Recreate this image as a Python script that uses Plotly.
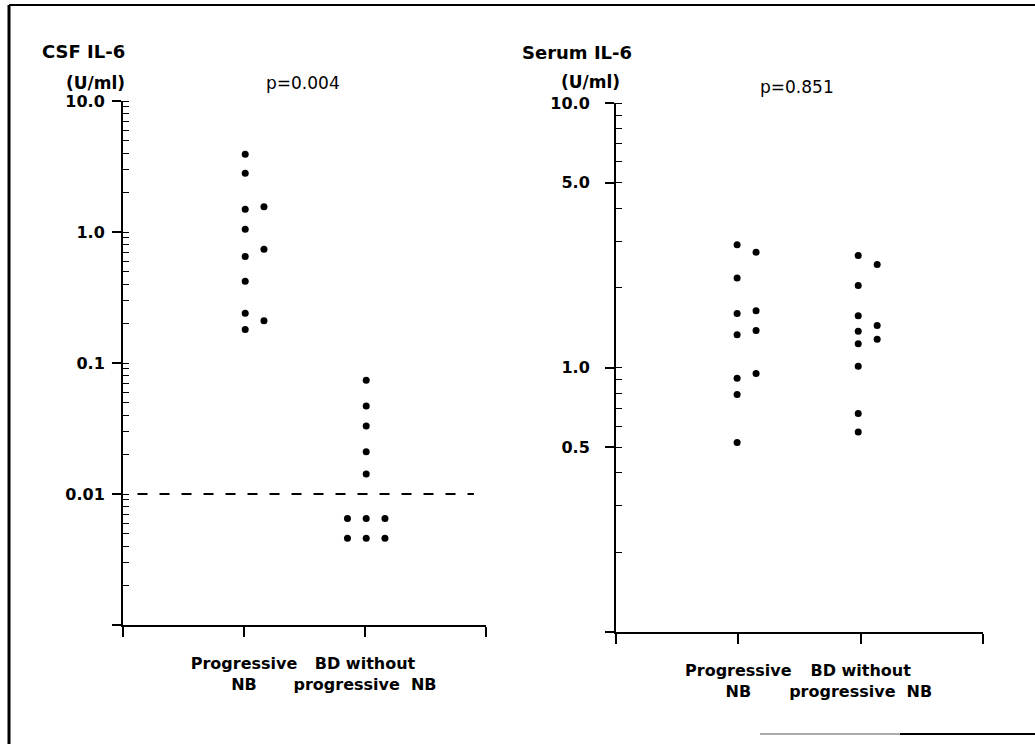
import plotly.graph_objects as go

# ---------------- data ----------------
categories = ["Progressive<br>NB", "BD without<br>progressive  NB"]

# CSF IL-6 (U/ml)
csf_prog_values = [3.93, 2.81, 1.49, 1.05, 0.65, 0.42, 0.24, 0.18, 1.56, 0.74, 0.21]
csf_prog_column = [0, 0, 0, 0, 0, 0, 0, 0, 1, 1, 1]
csf_bd_values = [0.074, 0.047, 0.033, 0.021, 0.0142,
                 0.0065, 0.0065, 0.0065, 0.0046, 0.0046, 0.0046]
csf_bd_column = [0, 0, 0, 0, 0, -1, 0, 1, -1, 0, 1]
csf_detection_limit = 0.01
csf_p_value = "p=0.004"

# Serum IL-6 (U/ml)
serum_prog_values = [2.91, 2.18, 1.60, 1.33, 0.91, 0.79, 0.52, 2.73, 1.64, 1.38, 0.95]
serum_prog_column = [0, 0, 0, 0, 0, 0, 0, 1, 1, 1, 1]
serum_bd_values = [2.65, 2.04, 1.57, 1.37, 1.23, 1.01, 0.67, 0.57, 2.45, 1.44, 1.28]
serum_bd_column = [0, 0, 0, 0, 0, 0, 0, 0, 1, 1, 1]
serum_p_value = "p=0.851"

csf_tickvals = [0.001, 0.01, 0.1, 1, 10]
csf_ticktext = ["", "0.01", "0.1", "1.0", "10.0"]
serum_tickvals = [0.1, 0.5, 1, 5, 10]
serum_ticktext = ["", "0.5", "1.0", "5.0", "10.0"]

# ---------------- figure ----------------
W, H = 1035, 744
FONT = "DejaVu Sans"
COL_STEP = 0.155


def px_x(p):
    return p / W


def px_y(p):
    return (H - p) / H


def xs(base, cols, shift=0.0):
    return [base + shift + c * COL_STEP for c in cols]


fig = go.Figure()
mk = dict(color="black", size=7)

fig.add_trace(go.Scatter(x=xs(1, csf_prog_column, 0.01), y=csf_prog_values, mode="markers",
                         marker=mk, xaxis="x", yaxis="y", showlegend=False))
fig.add_trace(go.Scatter(x=xs(2, csf_bd_column, 0.01), y=csf_bd_values, mode="markers",
                         marker=mk, xaxis="x", yaxis="y", showlegend=False))
fig.add_trace(go.Scatter(x=[0.12, 2.9], y=[csf_detection_limit, csf_detection_limit], mode="lines",
                         line=dict(color="black", width=2, dash="10px,12px"),
                         xaxis="x", yaxis="y", showlegend=False))
fig.add_trace(go.Scatter(x=xs(1, serum_prog_column, -0.01), y=serum_prog_values, mode="markers",
                         marker=mk, xaxis="x2", yaxis="y2", showlegend=False))
fig.add_trace(go.Scatter(x=xs(2, serum_bd_column, -0.02), y=serum_bd_values, mode="markers",
                         marker=mk, xaxis="x2", yaxis="y2", showlegend=False))

tickfont = dict(family=FONT, size=16, color="black", weight="bold")
catfont = dict(family=FONT, size=16, color="black", weight="bold")

xcommon = dict(range=[0, 3], tickvals=[0, 1, 2, 3], ticktext=[""] + categories + [""],
               showline=True, linecolor="black", linewidth=2, ticks="outside", ticklen=10,
               tickwidth=1.5, tickcolor="black", showgrid=False, zeroline=False,
               tickfont=catfont, ticklabelstandoff=13, tickangle=0, automargin=False,
               fixedrange=True)
ycommon = dict(type="log", showline=True, linecolor="black", linewidth=2, ticks="outside",
               ticklen=9, tickwidth=1.5, tickcolor="black", showgrid=False, zeroline=False,
               tickfont=tickfont, tickmode="array", automargin=False,
               minor=dict(dtick="D1", ticks="inside", ticklen=6, tickwidth=1.2,
                          tickcolor="black", showgrid=False),
               fixedrange=True)

fig.update_layout(
    template="none",
    width=W, height=H,
    margin=dict(l=0, r=0, t=0, b=0, pad=0),
    paper_bgcolor="white", plot_bgcolor="white",
    xaxis=dict(domain=[px_x(123), px_x(486)], anchor="y", **xcommon),
    yaxis=dict(domain=[px_y(625), px_y(101)], anchor="x", range=[-3, 1],
               tickvals=csf_tickvals, ticktext=csf_ticktext, ticklabelstandoff=4, **ycommon),
    xaxis2=dict(domain=[px_x(616), px_x(983)], anchor="y2", **xcommon),
    yaxis2=dict(domain=[px_y(632), px_y(103)], anchor="x2", range=[-1, 1],
                tickvals=serum_tickvals, ticktext=serum_ticktext, ticklabelstandoff=12, **ycommon),
)

ann = []


def add_text(text, x, y, xanchor="center", size=16, weight="bold"):
    ann.append(dict(text=text, x=px_x(x), y=px_y(y), xref="paper", yref="paper",
                    xanchor=xanchor, yanchor="middle", showarrow=False,
                    font=dict(family=FONT, size=size, color="black", weight=weight)))


add_text("CSF IL-6", 40, 51, xanchor="left", size=18)
add_text("(U/ml)", 95, 83, size=17)
add_text(csf_p_value, 303, 83, size=17, weight="normal")
add_text("Serum IL-6", 520, 52, xanchor="left", size=18)
add_text("(U/ml)", 590, 82, size=17)
add_text(serum_p_value, 797, 87, size=17, weight="normal")
fig.update_layout(annotations=ann)

# page border (scanned frame)
border = [
    dict(x0=9, y0=5, x1=9, y1=744, w=3, c="black"),
    dict(x0=9, y0=5, x1=1035, y1=5, w=2, c="black"),
    dict(x0=760, y0=734, x1=900, y1=734, w=2, c="#aaaaaa"),
    dict(x0=900, y0=734, x1=1035, y1=734, w=2, c="black"),
]
fig.update_layout(shapes=[dict(type="line", xref="paper", yref="paper",
                               x0=px_x(b["x0"]), y0=px_y(b["y0"]), x1=px_x(b["x1"]), y1=px_y(b["y1"]),
                               line=dict(color=b["c"], width=b["w"])) for b in border])

fig.write_html("out.html", config={"displayModeBar": False},
               post_script="document.body.style.margin='0px';")
